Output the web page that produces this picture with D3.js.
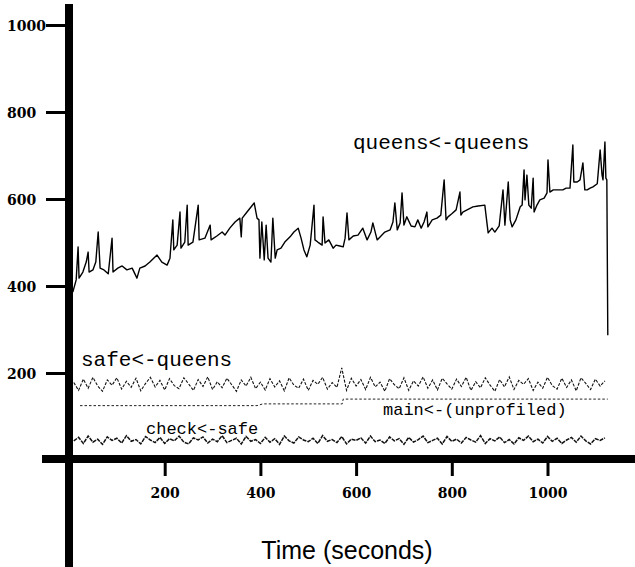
<!DOCTYPE html>
<html>
<head>
<meta charset="utf-8">
<script src="https://cdn.jsdelivr.net/npm/d3@7"></script>
<style>
  body { margin: 0; background: #fff; }
  svg { display: block; }
</style>
</head>
<body>
<div id="chart"></div>
<script>
const width = 635, height = 567;

// queens<-queens (seconds, value)
var queensTime = [8,15,19,21,29,36,40,42,50,56,61,65,73,82,90,92,102,111,121,132,
    142,148,159,169,184,194,205,211,217,219,226,232,234,242,247,249,259,270,272,284,
    295,297,309,320,326,336,347,357,360,362,372,382,387,393,397,399,403,408,412,416,
    422,426,431,435,443,451,462,470,479,485,491,497,504,512,514,520,529,531,535,543,
    552,558,566,573,577,581,585,594,604,614,623,631,635,644,652,660,671,677,681,686,
    692,696,700,706,715,723,729,736,742,748,750,759,769,777,784,788,792,800,809,817,
    819,823,832,844,855,869,874,876,884,890,899,907,911,918,922,926,934,943,947,951,
    953,957,961,966,970,972,978,984,993,999,1001,1005,1012,1022,1032,1039,1047,1053,1055,1062,
    1068,1074,1078,1083,1089,1095,1104,1110,1114,1116,1120,1122,1124,1126];
var queensValue = [386,414,490,418,432,455,478,432,437,455,524,441,437,428,510,432,441,446,437,441,
    418,441,446,455,471,455,448,464,552,483,494,570,487,501,586,494,501,586,506,510,
    540,506,515,524,517,533,547,556,513,556,570,584,591,556,552,464,547,460,540,464,
    455,556,464,483,487,501,513,524,533,510,483,467,494,586,506,501,494,559,499,506,
    487,494,492,490,510,568,506,515,517,533,506,524,545,506,515,524,529,547,591,529,
    545,614,540,559,538,536,552,533,547,570,536,552,556,563,644,552,559,566,575,616,
    563,570,575,582,584,586,540,522,533,524,538,621,540,639,552,536,552,582,586,667,
    598,655,586,579,648,570,586,598,602,614,690,616,621,621,621,625,625,724,639,639,
    644,683,621,621,625,628,635,713,655,644,731,648,644,287];

// sample times for the two noisy bands
var bandTimes = [10,20,30,40,50,60,70,80,90,100,110,120,130,140,150,160,170,180,190,200,
    210,220,230,240,250,260,270,280,290,300,310,320,330,340,350,360,370,380,390,400,
    410,420,430,440,450,460,470,480,490,500,510,520,530,540,550,560,570,580,590,600,
    610,620,630,640,650,660,670,680,690,700,710,720,730,740,750,760,770,780,790,800,
    810,820,830,840,850,860,870,880,890,900,910,920,930,940,950,960,970,980,990,1000,
    1010,1020,1030,1040,1050,1060,1070,1080,1090,1100,1110,1120];
var safeValue = [178,160,186,165,190,170,158,184,172,189,163,181,167,188,159,176,190,168,183,161,
    187,171,164,189,175,160,185,169,191,162,180,166,188,173,158,184,170,190,164,179,
    161,187,168,182,159,189,172,165,186,160,183,174,190,163,178,167,212,160,188,170,
    185,162,190,168,179,158,187,173,164,189,160,182,170,191,165,184,161,188,175,163,
    186,169,190,160,180,166,189,172,158,185,168,191,162,183,174,187,160,179,165,190,
    171,163,188,167,184,159,189,176,162,186,170,182];
var checkValue = [44,52,38,55,41,48,36,53,45,50,39,56,43,47,37,54,46,40,52,38,
    49,44,55,41,37,51,46,53,39,48,42,56,40,45,50,37,54,43,47,38,
    52,41,49,36,55,44,39,53,46,42,50,38,56,43,47,40,54,37,48,45,
    51,39,55,42,46,38,53,44,49,36,52,41,47,55,40,45,50,37,54,43,
    48,39,52,46,41,56,38,49,44,53,40,47,37,51,45,55,42,48,39,54,
    43,50,38,46,52,41,55,44,37,49,45,51];

// main<-(unprofiled), a stepped level
var mainTime = [23, 393, 405, 571, 573, 1126];
var mainValue = [125, 125, 129, 129, 140, 140];

var xTicks = [200, 400, 600, 800, 1000];
var yTicks = [200, 400, 600, 800, 1000];

let svg = d3.select("#chart")
    .append("svg")
    .attr("width", width)
    .attr("height", height)
    .style("background", "#fff");

let x = d3.scaleLinear().domain([0, 1000]).range([69, 547.5]);
let y = d3.scaleLinear().domain([0, 1000]).range([460, 25]);

function pairs(ts, vs) {
    return ts.map(function(t, i) { return [t, vs[i]]; });
}

let line = d3.line()
    .x(function(d) { return x(d[0]); })
    .y(function(d) { return y(d[1]); });

// bands first
svg.append("path")
    .attr("d", line(pairs(bandTimes, safeValue)))
    .attr("fill", "none")
    .attr("stroke", "#111")
    .attr("stroke-width", 1.1)
    .attr("stroke-dasharray", "3,1.5");

svg.append("path")
    .attr("d", line(pairs(bandTimes, checkValue)))
    .attr("fill", "none")
    .attr("stroke", "#111")
    .attr("stroke-width", 1.5)
    .attr("stroke-dasharray", "4,1");

svg.append("path")
    .attr("d", line(pairs(mainTime, mainValue)))
    .attr("fill", "none")
    .attr("stroke", "#222")
    .attr("stroke-width", 1)
    .attr("stroke-dasharray", "2.5,2");

svg.append("path")
    .attr("d", line(pairs(queensTime, queensValue)))
    .attr("fill", "none")
    .attr("stroke", "#000")
    .attr("stroke-width", 1.4)
    .attr("stroke-linejoin", "round");

// y axis
let yAxis = svg.append("g")
    .attr("transform", "translate(69,0)")
    .call(d3.axisLeft(y).tickValues(yTicks).tickSize(23).tickFormat(d3.format("d")));
yAxis.select(".domain").remove();
yAxis.selectAll(".tick line").attr("stroke", "#000").attr("stroke-width", 3);
yAxis.selectAll(".tick text")
    .attr("x", -62)
    .attr("dy", "0.4em")
    .style("text-anchor", "start")
    .style("font-family", "DejaVu Serif")
    .style("font-weight", "bold")
    .style("font-size", "14px")
    .attr("fill", "#000");

// x axis
let xAxis = svg.append("g")
    .attr("transform", "translate(0,459)")
    .call(d3.axisBottom(x).tickValues(xTicks).tickSize(17).tickPadding(12).tickFormat(d3.format("d")));
xAxis.select(".domain").remove();
xAxis.selectAll(".tick line").attr("stroke", "#000").attr("stroke-width", 3);
xAxis.selectAll(".tick text")
    .style("font-family", "DejaVu Serif")
    .style("font-weight", "bold")
    .style("font-size", "14px")
    .attr("fill", "#000");

// thick axis bars
svg.append("line")
    .attr("x1", 42).attr("x2", width)
    .attr("y1", 459).attr("y2", 459)
    .attr("stroke", "#000").attr("stroke-width", 8);
svg.append("line")
    .attr("x1", 69).attr("x2", 69)
    .attr("y1", 4).attr("y2", height)
    .attr("stroke", "#000").attr("stroke-width", 8);

// series labels
function label(txt, px, py, size) {
    svg.append("text")
        .attr("x", px).attr("y", py)
        .style("font-family", "Liberation Mono")
        .style("font-size", size + "px")
        .attr("fill", "#000")
        .text(txt);
}
label("queens<-queens", 353, 149, 21);
label("safe<-queens", 81, 366, 21);
label("main<-(unprofiled)", 383, 415, 17);
label("check<-safe", 146, 434, 17);

// x axis title
svg.append("text")
    .attr("x", 347).attr("y", 559)
    .style("text-anchor", "middle")
    .style("font-family", "Liberation Sans")
    .style("font-size", "25px")
    .attr("fill", "#000")
    .text("Time (seconds)");
</script>
</body>
</html>
